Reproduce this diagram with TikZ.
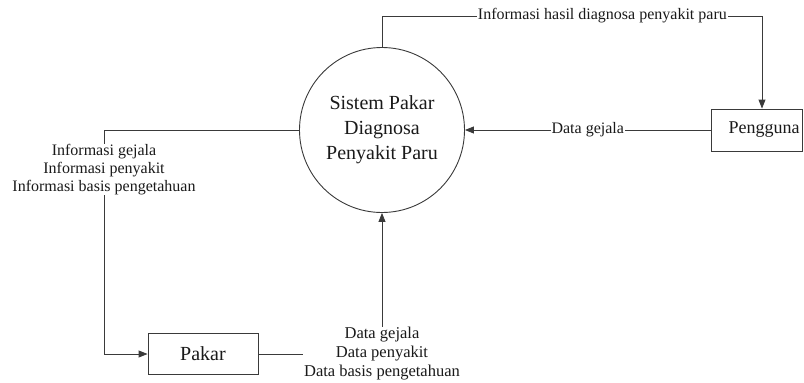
\documentclass[tikz,border=0pt]{standalone}
\usepackage{fontspec}
\setmainfont{Liberation Serif}
\usetikzlibrary{arrows.meta,positioning,calc}
\definecolor{ink}{HTML}{1A1A1A}
\definecolor{wire}{HTML}{3A3A3A}
\tikzset{
  proses/.style={circle,draw=wire,line width=0.9pt,minimum size=165pt,inner sep=0pt,align=center,text=ink,font=\fontsize{20}{25}\selectfont},
  entitas/.style={draw=wire,line width=0.9pt,fill=white,inner sep=0pt,text=ink,font=\fontsize{18}{21}\selectfont},
  alir/.style={-{Triangle[length=9pt,width=7pt]},line width=0.9pt,color=wire},
  lbl/.style={fill=white,inner xsep=1pt,inner ysep=0pt,align=center,text=ink,font=\fontsize{16}{18}\selectfont},
}
\begin{document}
\begin{tikzpicture}[x=1pt,y=-1pt]
  \useasboundingbox (0,0) rectangle (804,383);
  \node[proses] (sistem) at (382,130) {Sistem Pakar\\Diagnosa\\Penyakit Paru};
  \node[entitas,minimum width=91pt,minimum height=42pt] (pengguna) at (756.5,130) {\hspace*{15pt}Pengguna};
  \node[entitas,minimum width=110pt,minimum height=41pt,font=\fontsize{20}{22}\selectfont] (pakar) at (203,354) {Pakar};
  \coordinate (belok) at (762,16);
  \coordinate (kiri) at (104,0);
  % aliran data
  \draw[alir] (sistem.north) |- node[lbl,pos=0.79] {Informasi hasil diagnosa penyakit paru} (belok) -- (belok |- pengguna.north);
  \draw[alir] (pengguna.west) -- node[lbl,pos=0.5] {Data gejala} (sistem.east);
  \draw[alir] (sistem.west) -| node[lbl,pos=0.588] {Informasi gejala\\Informasi penyakit\\Informasi basis pengetahuan} (kiri |- pakar.west) -- (pakar.west);
  \draw[alir] (pakar.east) -| node[lbl,pos=0.5,font=\fontsize{16.5}{19}\selectfont] {Data gejala\\Data penyakit\\Data basis pengetahuan} (sistem.south);
\end{tikzpicture}
\end{document}
